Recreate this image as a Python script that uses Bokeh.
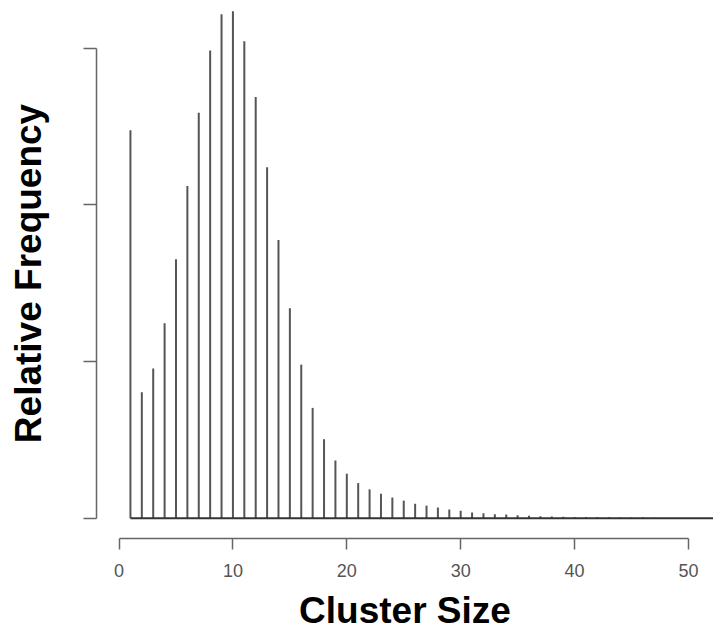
from bokeh.plotting import figure
from bokeh.models import Range1d, FixedTicker, CustomJSTickFormatter
from bokeh.embed import file_html
from bokeh.resources import INLINE

# ---- data ----
cluster_size = list(range(1, 48))
rel_freq = [
    0.0619, 0.0201, 0.0239, 0.0311, 0.0413, 0.0530, 0.0647, 0.0746, 0.0804, 0.0809,
    0.0761, 0.0672, 0.0560, 0.0444, 0.0335, 0.0245, 0.0176, 0.0126, 0.0092, 0.0071,
    0.0056, 0.0046, 0.0039, 0.0033, 0.0028, 0.0023, 0.0020, 0.0017, 0.0014, 0.0012,
    0.0009, 0.0008, 0.00064, 0.00059, 0.00048, 0.00038, 0.00032, 0.00027, 0.00024, 0.00021,
    0.00019, 0.00016, 0.00014, 0.00013, 0.00011, 0.00010, 0.00008,
]
baseline_start = 1
baseline_end = 60
x_ticks = [0, 10, 20, 30, 40, 50]
y_ticks = [0, 0.025, 0.05, 0.075]

p = figure(
    width=713, height=635,
    output_backend="svg", toolbar_location=None,
    x_range=Range1d(-1.98, 52.2),
    y_range=Range1d(-0.00324, 0.08132),
    min_border_left=96, min_border_right=0, min_border_top=8, min_border_bottom=97,
)
p.outline_line_color = None
p.xgrid.visible = False
p.ygrid.visible = False
p.background_fill_color = "white"
p.border_fill_color = "white"

# spikes
p.segment(x0=cluster_size, y0=[0] * len(cluster_size), x1=cluster_size, y1=rel_freq,
          line_color="#555555", line_width=2)
# baseline
p.segment(x0=[baseline_start], y0=[0], x1=[baseline_end], y1=[0],
          line_color="#333333", line_width=2)

axis_col = "#666666"

xa = p.xaxis[0]
xa.ticker = FixedTicker(ticks=x_ticks)
xa.bounds = (x_ticks[0], x_ticks[-1])
xa.axis_line_color = axis_col
xa.axis_line_width = 1.5
xa.major_tick_line_color = axis_col
xa.major_tick_line_width = 1.5
xa.major_tick_in = 0
xa.major_tick_out = 11
xa.minor_tick_line_color = None
xa.major_label_text_font = "Liberation Sans"
xa.major_label_text_font_size = "18px"
xa.major_label_text_color = "#555555"
xa.major_label_standoff = 14
xa.axis_label = "Cluster Size"
xa.axis_label_text_font = "Liberation Sans"
xa.axis_label_text_font_style = "bold"
xa.axis_label_text_font_size = "37px"
xa.axis_label_text_color = "black"
xa.axis_label_standoff = 10

ya = p.yaxis[0]
ya.ticker = FixedTicker(ticks=y_ticks)
ya.bounds = (y_ticks[0], y_ticks[-1])
ya.formatter = CustomJSTickFormatter(code="return ''")
ya.axis_line_color = axis_col
ya.axis_line_width = 1.5
ya.major_tick_line_color = axis_col
ya.major_tick_line_width = 1.5
ya.major_tick_in = 0
ya.major_tick_out = 13
ya.minor_tick_line_color = None
ya.major_label_standoff = 0
ya.axis_label = "Relative Frequency"
ya.axis_label_text_font = "Liberation Sans"
ya.axis_label_text_font_style = "bold"
ya.axis_label_text_font_size = "37px"
ya.axis_label_text_color = "black"
ya.axis_label_standoff = 35

open("out.html", "w").write(file_html(p, INLINE))
